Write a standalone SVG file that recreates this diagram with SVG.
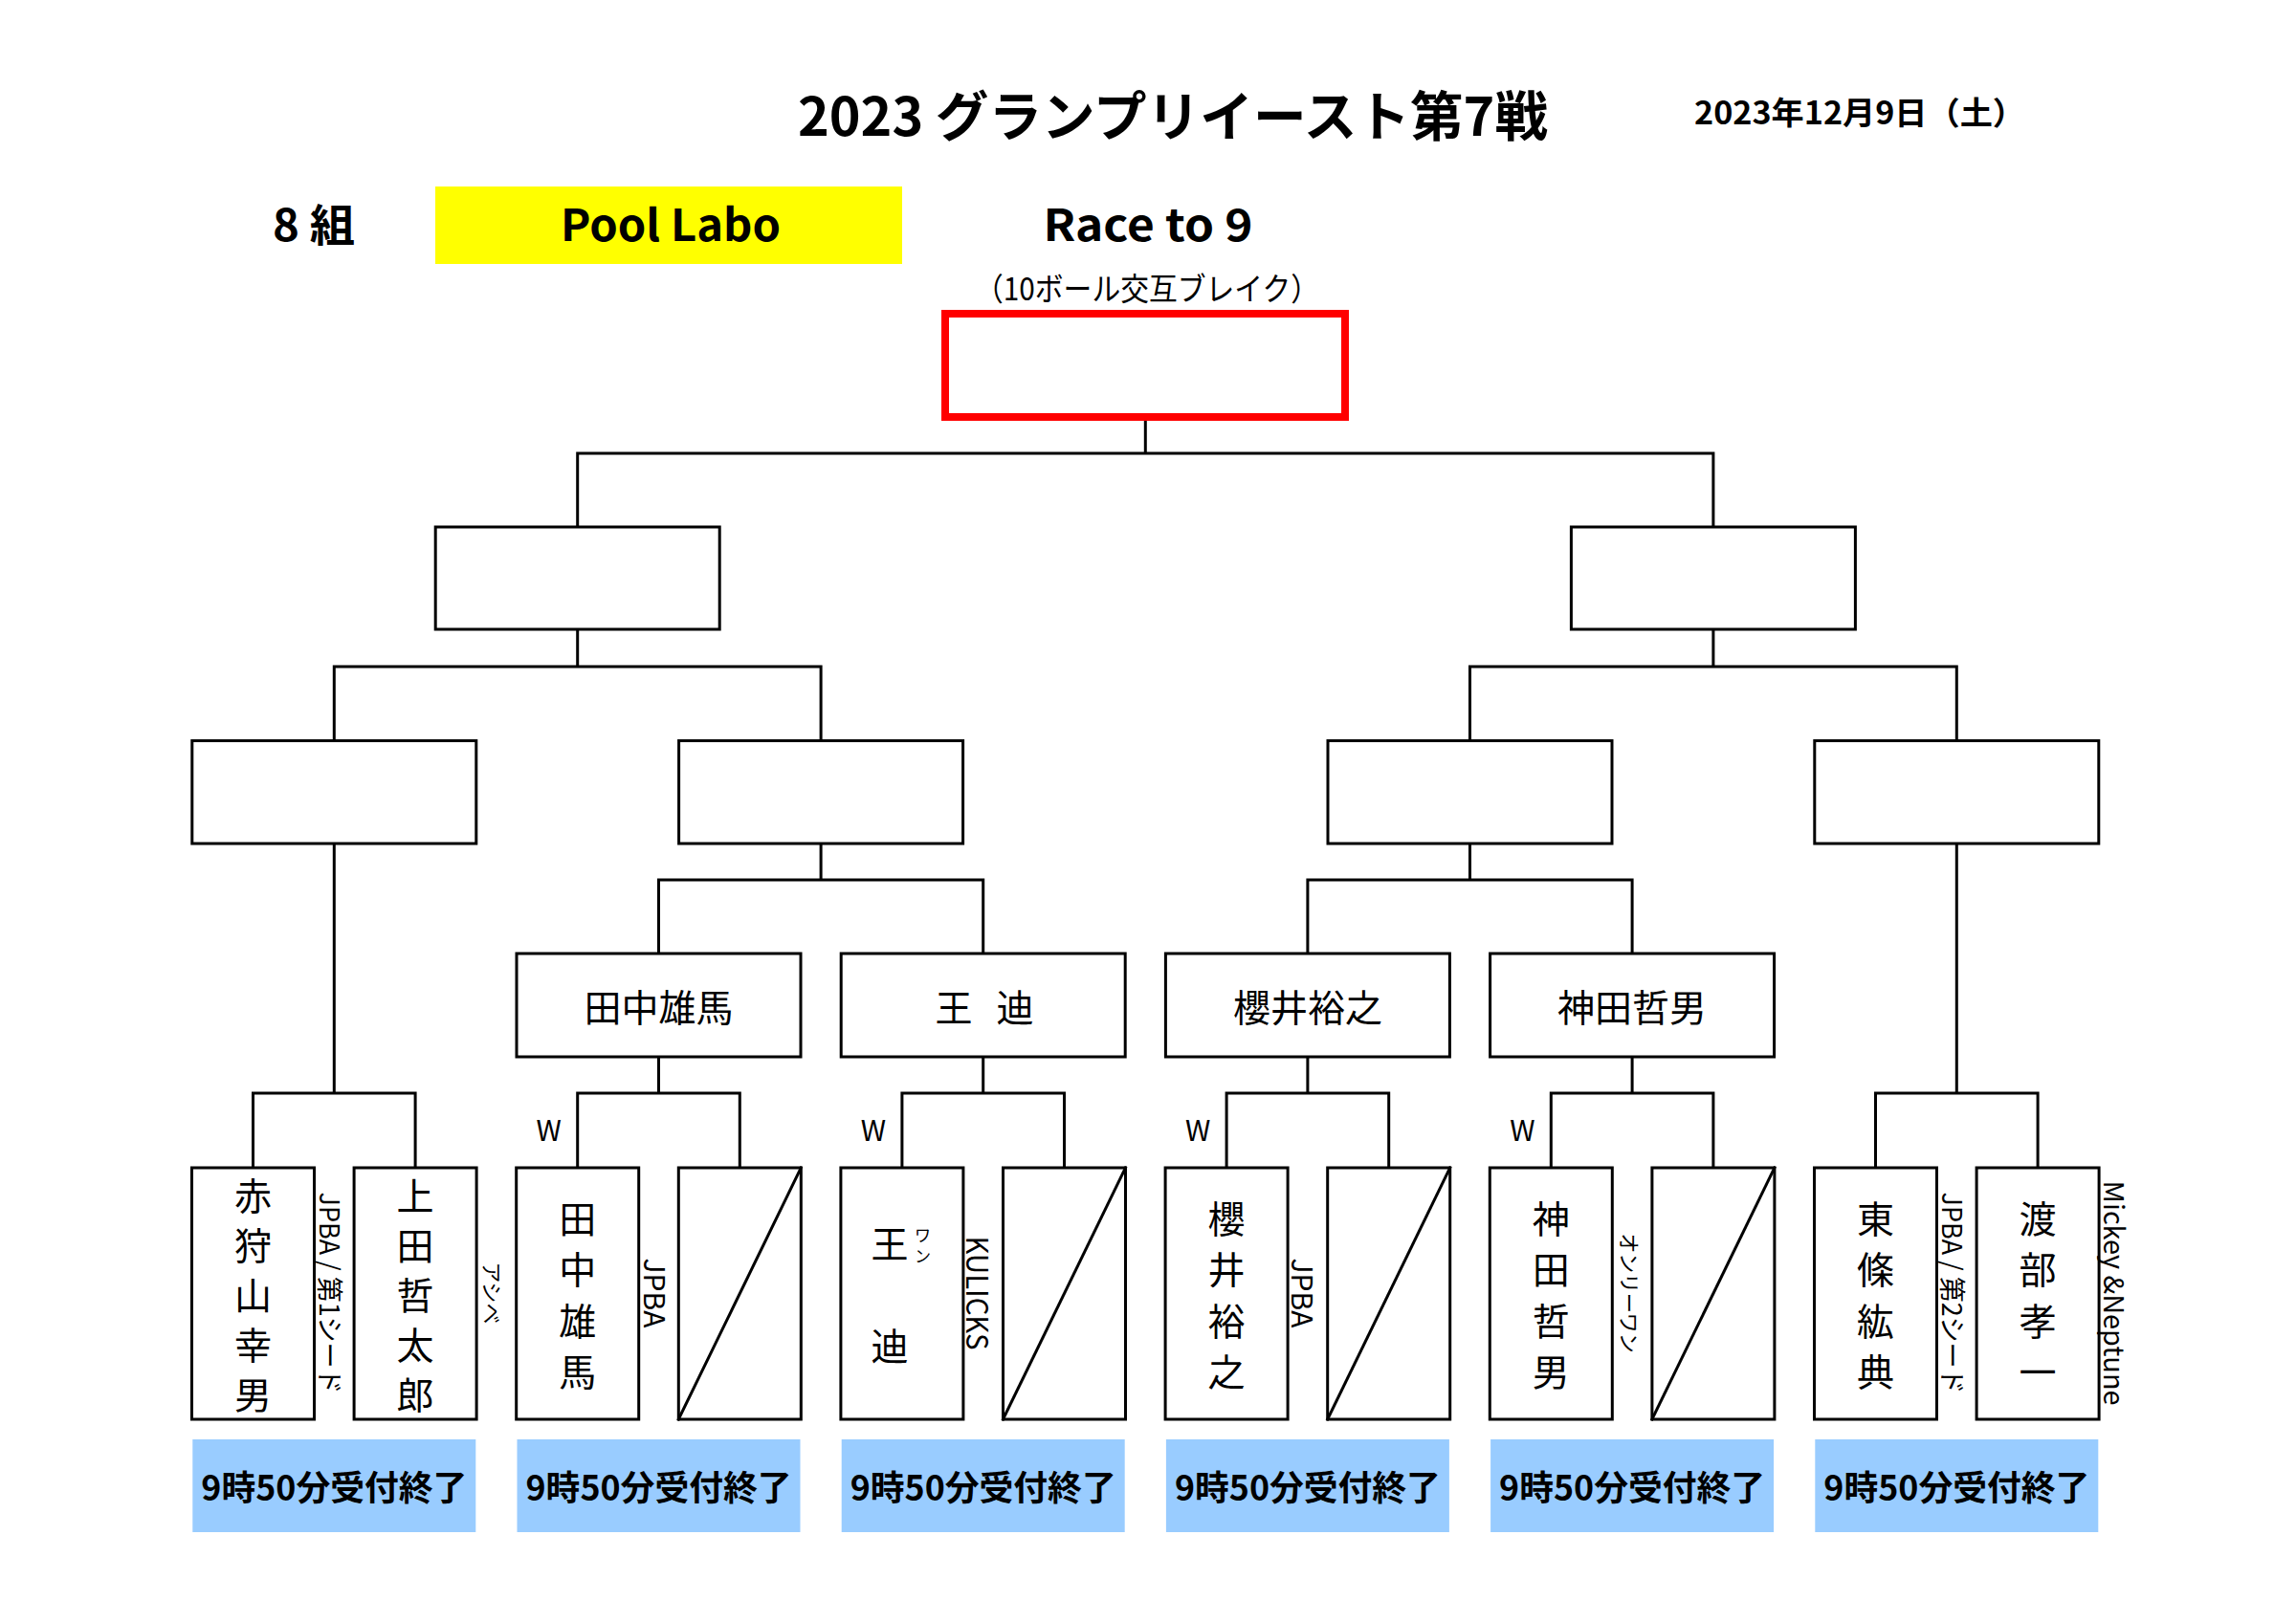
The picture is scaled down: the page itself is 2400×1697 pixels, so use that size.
<svg xmlns="http://www.w3.org/2000/svg" width="2400" height="1697" viewBox="0 0 2400 1697">
<style>
text{font-family:"Noto Sans CJK JP","Noto Sans",sans-serif;fill:#000}
.b{font-weight:bold}
.box{fill:#fff;stroke:#000;stroke-width:3}
.con{fill:none;stroke:#000;stroke-width:3;stroke-linecap:square}
.nm{font-size:39px;text-anchor:middle;dominant-baseline:central}
.org{text-anchor:middle;dominant-baseline:central}
.w{font-size:30px;text-anchor:middle}
.blue{fill:#99CCFF}
.bt{font-size:36px;font-weight:bold;text-anchor:middle;dominant-baseline:central}
</style>
<rect width="2400" height="1697" fill="#fff"/>
<g id="header">
<text class="b" x="1226" y="142" font-size="56" text-anchor="middle" textLength="784" lengthAdjust="spacingAndGlyphs">2023 グランプリイースト第7戦</text>
<text class="b" x="1771" y="130" font-size="33" textLength="346" lengthAdjust="spacingAndGlyphs">2023年12月9日（土）</text>
<text class="b" x="328" y="252" font-size="46" text-anchor="middle" textLength="86" lengthAdjust="spacingAndGlyphs">8 組</text>
<rect x="455" y="195" width="488" height="81" fill="#FFFF00"/>
<text class="b" x="701" y="252" font-size="46" text-anchor="middle" textLength="230" lengthAdjust="spacingAndGlyphs">Pool Labo</text>
<text class="b" x="1200" y="252" font-size="46" text-anchor="middle" textLength="219" lengthAdjust="spacingAndGlyphs">Race to 9</text>
<text x="1199" y="300" font-size="33" text-anchor="middle" dominant-baseline="central" textLength="360" lengthAdjust="spacingAndGlyphs">（10ボール交互ブレイク）</text>
</g>
<g id="connectors">
<path class="con" d="M1197.3 440V474M603.7 474H1790.9M603.7 474V551M1790.9 474V551
M603.7 658V697M349.3 697H858.1M349.3 697V774.5M858.1 697V774.5
M1790.9 658V697M1536.5 697H2045.3M1536.5 697V774.5M2045.3 697V774.5
M349.3 882V1143M858.1 882V920M688.5 920H1027.7M688.5 920V997M1027.7 920V997
M1536.5 882V920M1366.9 920H1706.1M1366.9 920V997M1706.1 920V997
M2045.3 882V1143
M688.5 1105V1143M1027.7 1105V1143M1366.9 1105V1143M1706.1 1105V1143
M264.5 1143H434.1M603.7 1143H773.3M942.9 1143H1112.5M1282.1 1143H1451.7M1621.3 1143H1790.9M1960.5 1143H2130.1
M264.5 1143V1221M434.1 1143V1221M603.7 1143V1221M773.3 1143V1221M942.9 1143V1221M1112.5 1143V1221
M1282.1 1143V1221M1451.7 1143V1221M1621.3 1143V1221M1790.9 1143V1221M1960.5 1143V1221M2130.1 1143V1221"/>
</g>
<g id="final"><rect x="988" y="328" width="418" height="108" fill="#fff" stroke="#FF0000" stroke-width="8"/></g>
<g id="semi-left"><rect class="box" x="455.2" y="551" width="297" height="107"/></g>
<g id="semi-right"><rect class="box" x="1642.4" y="551" width="297" height="107"/></g>
<g id="r3-1"><rect class="box" x="200.8" y="774.5" width="297" height="107.5"/></g>
<g id="r3-2"><rect class="box" x="709.6" y="774.5" width="297" height="107.5"/></g>
<g id="r3-3"><rect class="box" x="1388" y="774.5" width="297" height="107.5"/></g>
<g id="r3-4"><rect class="box" x="1896.8" y="774.5" width="297" height="107.5"/></g>
<g id="r4-1"><rect class="box" x="540" y="997" width="297" height="108"/><text class="nm" x="688.5" y="1051">田中雄馬</text></g>
<g id="r4-2"><rect class="box" x="879.2" y="997" width="297" height="108"/><text class="nm" y="1051"><tspan x="997">王</tspan><tspan x="1061">迪</tspan></text></g>
<g id="r4-3"><rect class="box" x="1218.4" y="997" width="297" height="108"/><text class="nm" x="1366.9" y="1051">櫻井裕之</text></g>
<g id="r4-4"><rect class="box" x="1557.6" y="997" width="297" height="108"/><text class="nm" x="1706.1" y="1051">神田哲男</text></g>
<g id="p0"><rect class="box" x="200.5" y="1221" width="128" height="263"/>
<text class="nm"><tspan x="264.5" y="1248.4">赤</tspan><tspan x="264.5" y="1300.2">狩</tspan><tspan x="264.5" y="1352">山</tspan><tspan x="264.5" y="1403.8">幸</tspan><tspan x="264.5" y="1455.6">男</tspan></text>
<text class="org" transform="translate(346,1352) rotate(90)" font-size="28" textLength="211" lengthAdjust="spacingAndGlyphs">JPBA / 第1シード</text></g>
<g id="p1"><rect class="box" x="370.1" y="1221" width="128" height="263"/>
<text class="nm"><tspan x="434.1" y="1248.4">上</tspan><tspan x="434.1" y="1300.2">田</tspan><tspan x="434.1" y="1352">哲</tspan><tspan x="434.1" y="1403.8">太</tspan><tspan x="434.1" y="1455.6">郎</tspan></text>
<text class="org" transform="translate(516,1352) rotate(90)" font-size="22" textLength="65" lengthAdjust="spacingAndGlyphs">アシベ</text></g>
<g id="p2"><rect class="box" x="539.7" y="1221" width="128" height="263"/>
<text class="nm"><tspan x="603.7" y="1271.9">田</tspan><tspan x="603.7" y="1325.3">中</tspan><tspan x="603.7" y="1378.7">雄</tspan><tspan x="603.7" y="1432.1">馬</tspan></text>
<text class="org" transform="translate(686,1352) rotate(90)" font-size="30">JPBA</text>
<text class="w" x="573.7" y="1193">W</text></g>
<g id="p3"><rect class="box" x="709.3" y="1221" width="128" height="263"/><path class="con" d="M709.3 1484L837.3 1221" stroke-linecap="butt"/></g>
<g id="p4"><rect class="box" x="878.9" y="1221" width="128" height="263"/>
<text class="nm"><tspan x="930" y="1298">王</tspan><tspan x="930" y="1405">迪</tspan></text>
<text font-size="17" text-anchor="middle" dominant-baseline="central"><tspan x="964.5" y="1290">ワ</tspan><tspan x="964.5" y="1312">ン</tspan></text>
<text class="org" transform="translate(1023,1352) rotate(90)" font-size="31" textLength="119" lengthAdjust="spacingAndGlyphs">KULICKS</text>
<text class="w" x="912.9" y="1193">W</text></g>
<g id="p5"><rect class="box" x="1048.5" y="1221" width="128" height="263"/><path class="con" d="M1048.5 1484L1176.5 1221" stroke-linecap="butt"/></g>
<g id="p6"><rect class="box" x="1218.1" y="1221" width="128" height="263"/>
<text class="nm"><tspan x="1282.1" y="1271.9">櫻</tspan><tspan x="1282.1" y="1325.3">井</tspan><tspan x="1282.1" y="1378.7">裕</tspan><tspan x="1282.1" y="1432.1">之</tspan></text>
<text class="org" transform="translate(1363,1352) rotate(90)" font-size="30">JPBA</text>
<text class="w" x="1252.1" y="1193">W</text></g>
<g id="p7"><rect class="box" x="1387.7" y="1221" width="128" height="263"/><path class="con" d="M1387.7 1484L1515.7 1221" stroke-linecap="butt"/></g>
<g id="p8"><rect class="box" x="1557.3" y="1221" width="128" height="263"/>
<text class="nm"><tspan x="1621.3" y="1271.9">神</tspan><tspan x="1621.3" y="1325.3">田</tspan><tspan x="1621.3" y="1378.7">哲</tspan><tspan x="1621.3" y="1432.1">男</tspan></text>
<text class="org" transform="translate(1705,1352) rotate(90)" font-size="22" textLength="125" lengthAdjust="spacingAndGlyphs">オンリーワン</text>
<text class="w" x="1591.3" y="1193">W</text></g>
<g id="p9"><rect class="box" x="1726.9" y="1221" width="128" height="263"/><path class="con" d="M1726.9 1484L1854.9 1221" stroke-linecap="butt"/></g>
<g id="p10"><rect class="box" x="1896.5" y="1221" width="128" height="263"/>
<text class="nm"><tspan x="1960.5" y="1271.9">東</tspan><tspan x="1960.5" y="1325.3">條</tspan><tspan x="1960.5" y="1378.7">紘</tspan><tspan x="1960.5" y="1432.1">典</tspan></text>
<text class="org" transform="translate(2042,1352) rotate(90)" font-size="28" textLength="211" lengthAdjust="spacingAndGlyphs">JPBA / 第2シード</text></g>
<g id="p11"><rect class="box" x="2066.1" y="1221" width="128" height="263"/>
<text class="nm"><tspan x="2130.1" y="1271.9">渡</tspan><tspan x="2130.1" y="1325.3">部</tspan><tspan x="2130.1" y="1378.7">孝</tspan><tspan x="2130.1" y="1432.1">一</tspan></text>
<text class="org" transform="translate(2212,1352) rotate(90)" font-size="29" textLength="235" lengthAdjust="spacingAndGlyphs">Mickey &amp;Neptune</text></g>
<g id="deadlines">
<rect class="blue" x="201.3" y="1505" width="296" height="97"/><text class="bt" x="349.3" y="1553" textLength="278" lengthAdjust="spacingAndGlyphs">9時50分受付終了</text>
<rect class="blue" x="540.5" y="1505" width="296" height="97"/><text class="bt" x="688.5" y="1553" textLength="278" lengthAdjust="spacingAndGlyphs">9時50分受付終了</text>
<rect class="blue" x="879.7" y="1505" width="296" height="97"/><text class="bt" x="1027.7" y="1553" textLength="278" lengthAdjust="spacingAndGlyphs">9時50分受付終了</text>
<rect class="blue" x="1218.9" y="1505" width="296" height="97"/><text class="bt" x="1366.9" y="1553" textLength="278" lengthAdjust="spacingAndGlyphs">9時50分受付終了</text>
<rect class="blue" x="1558.1" y="1505" width="296" height="97"/><text class="bt" x="1706.1" y="1553" textLength="278" lengthAdjust="spacingAndGlyphs">9時50分受付終了</text>
<rect class="blue" x="1897.3" y="1505" width="296" height="97"/><text class="bt" x="2045.3" y="1553" textLength="278" lengthAdjust="spacingAndGlyphs">9時50分受付終了</text>
</g>
</svg>
